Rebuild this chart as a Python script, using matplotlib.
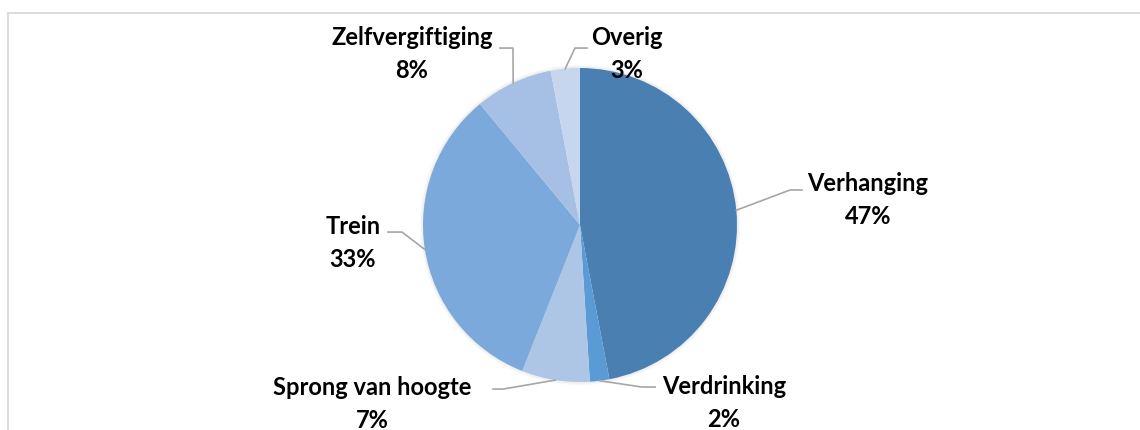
import numpy as np
import matplotlib
matplotlib.use("Agg")
import matplotlib.pyplot as plt
from matplotlib.lines import Line2D
from matplotlib.patches import Circle

# data
labels = ["Verhanging", "Verdrinking", "Sprong van hoogte", "Trein", "Zelfvergiftiging", "Overig"]
shares = [47, 2, 7, 33, 8, 3]
colors = ["#4A7FB1", "#5B9BD5", "#ADC6E6", "#7BA9DB", "#A5C0E4", "#C6D6EE"]

# label layout (pie units, radius = 1): elbow, line end, text centre
elbows = [(1.338, 0.223), (0.395, -1.032), (-0.490, -1.045), (-1.134, -0.045), (-0.427, 1.127), (-0.032, 1.127)]
ends = [(1.414, 0.223), (0.478, -1.032), (-0.554, -1.045), (-1.223, -0.045), (-0.510, 1.127), (0.045, 1.127)]
text_pos = [(1.834, 0.166), (0.917, -1.127), (-1.325, -1.134), (-1.446, -0.108), (-1.070, 1.096), (0.299, 1.096)]

W, H = 1140, 431
fig = plt.figure(figsize=(W / 100, H / 100), dpi=100)
fig.patch.set_facecolor("white")

# pie centre (580, 226) px, radius 157 px
cx, cy, r = 580, 226, 157
ax = fig.add_axes([(cx - r) / W, (H - cy - r) / H, 2 * r / W, 2 * r / H])
ax.set_aspect("equal")
ax.axis("off")

# soft shadow
for k, a in [(1.02, 0.05), (1.01, 0.08)]:
    ax.add_patch(Circle((0, 0.0), k, color="#808080", alpha=a, lw=0, zorder=0, clip_on=False))

wedges, _ = ax.pie(shares, colors=colors, startangle=90, counterclock=False,
                   radius=1, wedgeprops=dict(linewidth=0), center=(0, 0), frame=False)
ax.set_xlim(-1, 1)
ax.set_ylim(-1, 1)

font = ["Lato", "DejaVu Sans"]
for w, lab, v, el, en, tp in zip(wedges, labels, shares, elbows, ends, text_pos):
    ang = np.deg2rad((w.theta1 + w.theta2) / 2)
    ax.add_line(Line2D([np.cos(ang), el[0], en[0]], [np.sin(ang), el[1], en[1]], color="#A6A6A6",
                       lw=1.2, clip_on=False, zorder=3))
    ax.text(tp[0], tp[1], "%s\n%d%%" % (lab, v), ha="center", va="center",
            fontsize=17, fontweight="bold", family=font, color="black",
            linespacing=1.55, clip_on=False, zorder=4)

# chart area border (only top and left visible)
fig.add_artist(Line2D([7.5 / W, 1.0], [1 - 13.5 / H, 1 - 13.5 / H], color="#D9D9D9", lw=1.3,
                      transform=fig.transFigure))
fig.add_artist(Line2D([7.5 / W, 7.5 / W], [1 - 13.5 / H, 0.0], color="#D9D9D9", lw=1.3,
                      transform=fig.transFigure))

fig.savefig("out.png", dpi=100, facecolor="white")
